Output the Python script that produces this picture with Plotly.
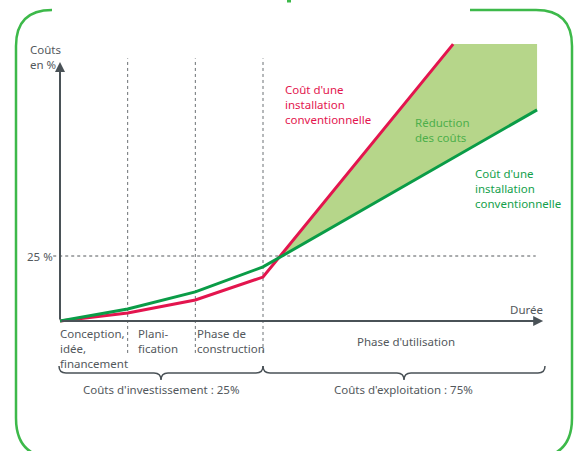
import plotly.graph_objects as go

# Phases on the x axis (0 = project start, 1..3 = end of each investment phase)
phase_x = [0, 1, 2, 3]
phase_labels = ["Conception,<br>idée,<br>financement", "Plani-<br>fication", "Phase de<br>construction"]
use_label = "Phase d'utilisation"

# Cost curves, in % of total cost
conv_x = [0, 1, 2, 3, 5.81]
conv_y = [0, 3.1, 8.1, 16.9, 106.5]
alt_x = [0, 1, 2, 3, 7.05]
alt_y = [0, 4.6, 11.2, 20.8, 81.2]
ref_level = 25
fill_top = 106.5

W, H = 581, 451
RED = "#e3154e"
GREEN = "#0a9c47"
FILL = "#b6d68a"
TXT = "#53585c"
AXIS = "#4a5257"
FRAME = "#3db94a"
FONT = "Noto Sans"
FS = 11.5


def P(px, py):
    return px / W, 1 - py / H


def path(points):
    # points: list of (cmd, [(px, py), ...]) in pixel coords -> paper path
    out = []
    for cmd, pts in points:
        coords = " ".join("%.5f,%.5f" % P(x, y) for x, y in pts)
        out.append(cmd + " " + coords)
    return " ".join(out)


# crossing of the two straight segments after phase 3
s_r = (conv_y[-1] - conv_y[-2]) / (conv_x[-1] - conv_x[-2])
s_g = (alt_y[-1] - alt_y[-2]) / (alt_x[-1] - alt_x[-2])
cx = conv_x[-2] + (alt_y[-2] - conv_y[-2]) / (s_r - s_g)
cy = conv_y[-2] + s_r * (cx - conv_x[-2])

fill_x = [cx, conv_x[-1], alt_x[-1], alt_x[-1], cx]
fill_y = [cy, conv_y[-1], fill_top, alt_y[-1], cy]

fig = go.Figure()
fig.add_trace(go.Scatter(x=fill_x, y=fill_y, fill="toself", fillcolor=FILL,
                         line=dict(width=0), mode="lines", hoverinfo="skip"))
fig.add_trace(go.Scatter(x=conv_x, y=conv_y, mode="lines",
                         line=dict(color=RED, width=3)))
fig.add_trace(go.Scatter(x=alt_x, y=alt_y, mode="lines",
                         line=dict(color=GREEN, width=3)))

shapes = []
# dotted phase separators
for xv in phase_x[1:]:
    shapes.append(dict(type="line", xref="x", yref="y", x0=xv, x1=xv, y0=-12.3, y1=101,
                       line=dict(color="#6b7074", width=1, dash="dot"), layer="below"))
# 25 % reference line
shapes.append(dict(type="line", xref="x", yref="y", x0=-0.1, x1=7.03, y0=ref_level, y1=ref_level,
                   line=dict(color="#55595c", width=1, dash="dot"), layer="below"))

# green rounded frame
shapes.append(dict(type="path", xref="paper", yref="paper",
                   path=path([("M", [(52, 10)]), ("Q", [(16, 10), (16, 46)]),
                              ("L", [(16, 418)]), ("Q", [(16, 458), (56, 458)]),
                              ("L", [(532, 458)]), ("Q", [(572, 458), (572, 418)]),
                              ("L", [(572, 46)]), ("Q", [(572, 10), (536, 10)]),
                              ("L", [(470, 10)])]),
                   line=dict(color=FRAME, width=2.5)))
shapes.append(dict(type="line", xref="paper", yref="paper",
                   x0=P(287, 1)[0], x1=P(291, 1)[0], y0=P(287, 1)[1], y1=P(291, 1)[1],
                   line=dict(color=FRAME, width=3)))


def brace(x0, x1, y0=366, y1=373, tip=380):
    m = (x0 + x1) / 2
    return path([("M", [(x0, y0)]), ("Q", [(x0, y1), (x0 + 7, y1)]),
                 ("L", [(m - 7, y1)]), ("Q", [(m, y1), (m, tip)]),
                 ("Q", [(m, y1), (m + 7, y1)]), ("L", [(x1 - 7, y1)]),
                 ("Q", [(x1, y1), (x1, y0)])])


shapes.append(dict(type="path", xref="paper", yref="paper", path=brace(59, 263),
                   line=dict(color=AXIS, width=1.5)))
shapes.append(dict(type="path", xref="paper", yref="paper", path=brace(263, 545),
                   line=dict(color=AXIS, width=1.5)))

ann = []
# axis arrows
ann.append(dict(x=7.14, y=0, ax=0, ay=0, xref="x", yref="y", axref="x", ayref="y",
                text="", showarrow=True, arrowhead=2, arrowsize=1, arrowwidth=2, arrowcolor=AXIS))
ann.append(dict(x=0, y=99.6, ax=0, ay=0, xref="x", yref="y", axref="x", ayref="y",
                text="", showarrow=True, arrowhead=2, arrowsize=1, arrowwidth=2, arrowcolor=AXIS))


def txt(text, px, py, color=TXT, xa="left", ya="top", size=FS, align="left"):
    x, y = P(px, py)
    ann.append(dict(x=x, y=y, xref="paper", yref="paper", text=text, showarrow=False,
                    xanchor=xa, yanchor=ya, align=align,
                    font=dict(family=FONT, size=size, color=color)))


txt("Coûts<br>en %", 28, 40)
txt("25 %", 55, 256, xa="right", ya="middle")
txt("Durée", 545, 309, xa="right", ya="middle")
txt(phase_labels[0], 58, 324)
txt(phase_labels[1], 136, 324)
txt(phase_labels[2], 195, 324)
txt(use_label, 406, 341, xa="center", ya="middle")
txt("Coûts d'investissement : 25%", 161, 389, xa="center", ya="middle")
txt("Coûts d'exploitation : 75%", 403, 389, xa="center", ya="middle")
txt("Coût d'une<br>installation<br>conventionnelle", 283, 80, color=RED)
txt("Réduction<br>des coûts", 413, 113, color="#4daf4a")
txt("Coût d'une<br>installation<br>conventionnelle", 473, 164, color="#14a04b")

fig.update_layout(
    width=W, height=H,
    margin=dict(l=0, r=0, t=0, b=0),
    paper_bgcolor="white", plot_bgcolor="white",
    showlegend=False,
    xaxis=dict(range=[-60 / 67.67, 521 / 67.67], visible=False, fixedrange=True),
    yaxis=dict(range=[-50, 321 / 2.6], visible=False, fixedrange=True),
    shapes=shapes,
    annotations=ann,
)

# remove the default page margin so the figure sits at the window's top-left
fig.write_html("out.html", post_script="document.body.style.margin='0';",
               config={"displayModeBar": False})
